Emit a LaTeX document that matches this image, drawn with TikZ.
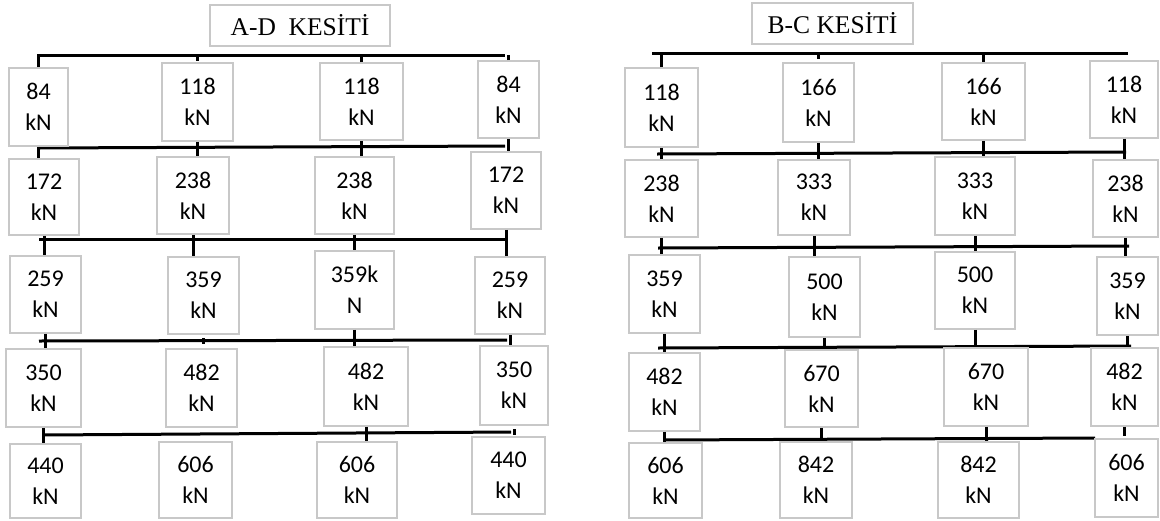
\documentclass[tikz,border=0pt]{standalone}
\usepackage{fontspec}
\setmainfont{Carlito}
\newfontfamily\titlefont{Liberation Serif}
\definecolor{boxgray}{RGB}{200,200,200}
\tikzset{
 kbox/.style={draw=boxgray, line width=1.6pt, fill=white, inner sep=0pt, align=center, font=\fontsize{24}{31}\selectfont},
 tbox/.style={draw=boxgray, line width=1.6pt, fill=white, inner sep=0pt, font=\titlefont\fontsize{25.5}{28}\selectfont},
 bus/.style={line width=3pt, black},
 tick/.style={line width=3pt, black},
}
\newcommand\kutu[6]{\node[kbox, minimum width={(#3-#2)*1pt}, minimum height={(#5-#4)*1pt}] (#1) at ({(#2+#3)/2},{(#4+#5)/2}) {#6};}
\newcommand\crosstick[2]{\draw[tick] (#1.south) -- (#1.south |- #2.north);}
\begin{document}
\begin{tikzpicture}[x=1pt,y=-1pt]
\useasboundingbox (0,0) rectangle (1160,520);
% bus coordinates
\coordinate (bL1a) at (37,55);  \coordinate (bL1b) at (505,55);
\coordinate (bL2a) at (39,148); \coordinate (bL2b) at (505,146);
\coordinate (bL3a) at (39,239); \coordinate (bL3b) at (507,239);
\coordinate (bL4a) at (39,341); \coordinate (bL4b) at (507,340);
\coordinate (bL5a) at (43,435); \coordinate (bL5b) at (511,432);
\coordinate (bR1a) at (652,53); \coordinate (bR1b) at (1128,53);
\coordinate (bR2a) at (657,154); \coordinate (bR2b) at (1126,152);
\coordinate (bR3a) at (658,248); \coordinate (bR3b) at (1129,246);
\coordinate (bR4a) at (658,348); \coordinate (bR4b) at (1131,346);
\coordinate (bR5a) at (664,440); \coordinate (bR5b) at (1095,438);
\foreach \b in {bL1,bL2,bL3,bL4,bL5,bR1,bR2,bR3,bR4,bR5}
  \draw[bus] (\b a) -- (\b b);
% titles
\node[tbox, minimum width=180pt, minimum height=41pt] (tL) at (300,25.5) {A-D\ \ KES\.{I}T\.{I}};
\node[tbox, minimum width=161pt, minimum height=41pt] (tR) at (832.5,23.5) {B-C KES\.{I}T\.{I}};
% left boxes
\kutu{L11}{9}{68}{68}{146}{84\\kN}
\kutu{L12}{162}{233}{63}{141}{118\\kN}
\kutu{L13}{320}{403}{63}{140}{118\\kN}
\kutu{L14}{478}{539}{61}{138}{84\\kN}
\kutu{L21}{9}{79}{159}{235}{172\\kN}
\kutu{L22}{157}{229}{157}{234}{238\\kN}
\kutu{L23}{315}{394}{157}{234}{238\\kN}
\kutu{L24}{471}{541}{152}{229}{172\\kN}
\kutu{L31}{10}{81}{256}{333}{259\\kN}
\kutu{L32}{168}{239}{257}{334}{359\\kN}
\kutu{L33}{315}{394}{251}{329}{359k\\N}
\kutu{L34}{475}{545}{257}{334}{259\\kN}
\kutu{L41}{6}{81}{349}{427}{350\\kN}
\kutu{L42}{166}{237}{349}{427}{482\\kN}
\kutu{L43}{324}{408}{347}{426}{482\\kN}
\kutu{L44}{480}{548}{346}{425}{350\\kN}
\kutu{L51}{10}{81}{444}{518}{440\\kN}
\kutu{L52}{159}{232}{442}{518}{606\\kN}
\kutu{L53}{317}{397}{442}{518}{606\\kN}
\kutu{L54}{472}{545}{437}{514}{440\\kN}
% right boxes
\kutu{R11}{625}{698}{68}{147}{118\\kN}
\kutu{R12}{783}{854}{63}{142}{166\\kN}
\kutu{R13}{942}{1025}{63}{140}{166\\kN}
\kutu{R14}{1090}{1158}{61}{138}{118\\kN}
\kutu{R21}{625}{698}{160}{237}{238\\kN}
\kutu{R22}{778}{850}{160}{235}{333\\kN}
\kutu{R23}{935}{1015}{157}{235}{333\\kN}
\kutu{R24}{1093}{1158}{160}{237}{238\\kN}
\kutu{R31}{629}{700}{255}{333}{359\\kN}
\kutu{R32}{789}{860}{257}{337}{500\\kN}
\kutu{R33}{935}{1015}{252}{329}{500\\kN}
\kutu{R34}{1097}{1158}{257}{335}{359\\kN}
\kutu{R41}{629}{700}{353}{431}{482\\kN}
\kutu{R42}{785}{858}{350}{427}{670\\kN}
\kutu{R43}{944}{1028}{348}{426}{670\\kN}
\kutu{R44}{1091}{1158}{348}{426}{482\\kN}
\kutu{R51}{629}{702}{443}{518}{606\\kN}
\kutu{R52}{780}{852}{442}{518}{842\\kN}
\kutu{R53}{938}{1019}{442}{518}{842\\kN}
\kutu{R54}{1095}{1158}{439}{517}{606\\kN}
% left ticks
\draw[tick] (L11.north) -- (L11.north |- bL1a);
\draw[tick] (L12.north |- bL1a) -- ++(0,6);
\draw[tick] (L13.north) -- (L13.north |- bL1a);
\draw[tick] (L14.north) -- (L14.north |- bL1a);
\crosstick{L11}{L21}\crosstick{L12}{L22}\crosstick{L13}{L23}\crosstick{L14}{L24}
\crosstick{L21}{L31}\crosstick{L22}{L32}\crosstick{L23}{L33}\crosstick{L24}{L34}
\crosstick{L31}{L41}\crosstick{L33}{L43}\crosstick{L34}{L44}
\draw[tick] (L32.south |- bL4a) ++(0,-3) -- ++(0,6);
\crosstick{L41}{L51}\crosstick{L43}{L53}
\draw[tick] (L44.south |- bL5b) ++(0,-3) -- ++(0,6);
% right ticks
\draw[tick] (R11.north) -- (R11.north |- bR1a);
\draw[tick] (R12.north |- bR1a) -- ++(0,6);
\draw[tick] (R13.north) -- (R13.north |- bR1a);
\crosstick{R11}{R21}\crosstick{R12}{R22}\crosstick{R13}{R23}\crosstick{R14}{R24}
\crosstick{R21}{R31}\crosstick{R22}{R32}\crosstick{R23}{R33}\crosstick{R24}{R34}
\crosstick{R31}{R41}\crosstick{R32}{R42}\crosstick{R33}{R43}\crosstick{R34}{R44}
\crosstick{R41}{R51}\crosstick{R42}{R52}\crosstick{R43}{R53}
\draw[tick] (R44.south) -- ([yshift=2pt]R44.south |- R54.north);
\end{tikzpicture}
\end{document}
